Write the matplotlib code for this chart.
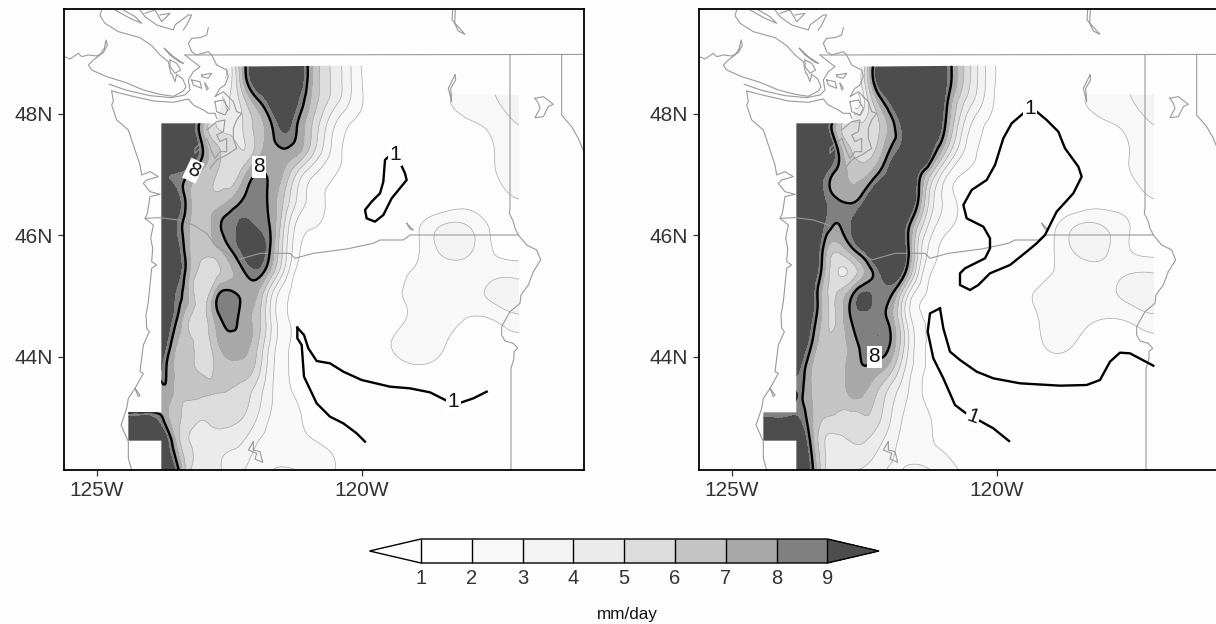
import numpy as np
import matplotlib
matplotlib.use("Agg")
import matplotlib.pyplot as plt
import matplotlib.tri as mtri
from matplotlib.patches import Polygon

FONT = "Liberation Sans"
plt.rcParams["font.family"] = [FONT, "DejaVu Sans"]

# grid of the precipitation field
LONS = [-124.5, -124.25, -124, -123.75, -123.5, -123.25, -123, -122.75, -122.5, -122.25, -122, -121.75,
        -121.5, -121.25, -121, -120.5, -120, -119.5, -119, -118.5, -118, -117.5, -117, -116.5]
LATS = [49.0, 48.6, 48.2, 47.8, 47.4, 47.0, 46.6, 46.2, 45.8, 45.4, 45.0, 44.6, 44.2, 43.8, 43.4, 43.0, 42.6, 42.1]

PRECIP_LEFT = [
 [3,3,3,3,3,3,3,3, 4,7.5,10,11,11,10.5,7.8, 4.6,2.0,1.5,1.5,1.6,2.2,3.0,3.5,3],
 [3,3,3,3,3,3,3,3, 3.5,7,10,11,11,10.5,7.7, 4.6,2.0,1.5,1.5,1.6,2.2,3.0,3.5,3],
 [10,10,10,10,10.5,10,8,5, 4,5.5,7.5,9.3,10.5,9.3,7.2, 4.3,2.05,1.5,1.5,1.8,2.4,2.9,3.4,3],
 [10,10,10,10,10.5,9.8,7,5, 4.5,5,6.3,7.6,9.3,8.2,6.4, 2.9,1.7,1.5,1.5,1.6,1.8,2.3,3.0,2.7],
 [11,11,11,11,11,10.5,8,6.2, 5.5,5,6.3,7.5,7.9,7.5,5.9, 2.5,1.6,1.4,1.4,1.5,1.7,2.0,2.5,2],
 [11,11,11,9.5,8.8,7.9,6.5,6, 5.3,6.6,8.0,7.9,7,5,3.4, 2.0,1.5,1.3,1.3,1.4,1.6,1.95,2.3,2],
 [11,11,11,11,9.6,7.2,6.3,6.3, 6.9,8,8.6,7.8,6.2,4.1,2.8, 1.7,1.4,1.2,1.1,1.2,1.5,1.7,2,1.5],
 [11,11,11,11,9,7,6.2,7.6, 8.4,9.2,8.8,8,5.5,3,2.2, 1.6,1.3,1.2,1.7,2.85,2.85,1.7,1.5,1.2],
 [11,11,11,11,9.5,7,6.3,6.9, 8,9.4,10,8.2,5,2.5,1.6, 1.4,1.3,1.5,1.8,3.3,3.3,1.9,1.5,1.2],
 [11,11,11,11,9.8,7,5.6,5.7, 6.7,7.8,8.7,7,4.2,1.9,1.3, 1.2,1.2,1.5,2.1,2.4,2.5,2.6,2.6,2],
 [11,11,11,10.5,8.7,6.8,5.4,7.7, 8.6,7.8,7.1,4.5,2.4,1.7,1.2, 1.2,1.2,1.6,2.2,2.2,2.5,3.3,3.4,2],
 [11,11,11,10.2,8,5.9,5.5,7.3, 8.4,7.6,6.6,4.3,2.4,1.7,1.1, 1.4,1.2,1.5,2.2,2.3,1.9,2.0,2.7,2],
 [11,11,11,9.6,7,6.3,5.4,6.7, 7.5,7.4,6.3,4,2.4,1.7,1.2, 1.2,1.3,1.9,2.5,2.1,1.6,1.5,1.5,1.2],
 [10,10,10,8.6,6.8,6.2,5.8,6.2, 6.7,6.6,5.7,3.6,2.3,1.7,1.2, 1.2,1.2,1.4,1.8,1.7,1.4,1.2,1.2,1.1],
 [4.5,4.5,4.5,7.6,6.6,6.2,6.1,6, 5.9,5.5,4.6,3.3,2.4,1.9,1.5, 1.3,1.2,1.2,1.2,1.2,1.2,1.2,1.2,1.1],
 [9.3,9.3,9.3,7.9,6.3,5.4,5.1,5.5, 5.4,5,4.1,3,2.6,2.2,1.8, 1.4,1.2,1.2,1.2,1.2,1.2,1.2,1.2,1.1],
 [10,10,10.5,10,6.8,5,4.5,4.4, 4.3,4,3.1,2.7,2.5,2.3,2.1, 1.8,1.5,1.2,1.2,1.2,1.2,1.2,1.2,1.1],
 [11,11,11,11,8.8,5,4.5,4.2, 3.7,3,2.8,3,3.2,3.1,2.9, 2,1.5,1.1,1.1,1.1,1.1,1.1,1.1,1.1],
]
PRECIP_RIGHT = [
 [3,3,3,3,3,3,3,3, 5,9.5,11,12,12,12,9.6, 5,1.9,1.5,1.5,1.6,2.2,3,3.5,3],
 [3,3,3,3,3,3,3,3, 5,9.5,11,12,12,12,9.6, 5,1.9,1.5,1.5,1.6,2.2,3,3.5,3],
 [10,10,10,10,10,10,8,3, 4,7,9.2,11,12,12,9, 4.3,1.8,1.5,1.5,1.8,2.4,2.9,3.4,3],
 [11,11,11,11,11,9.7,6.5,5.3, 5.3,5.8,7.5,9.4,11,11,8.3, 3,1.7,1.5,1.5,1.6,1.8,2.3,3,2.7],
 [11,11,11,11,11,11,8,6, 5.5,6.3,8.2,10,12,9.5,6.5, 2.4,1.7,1.4,1.4,1.5,1.7,2,2.5,2],
 [11,11,11,11,11,9,7.6,6.8, 6.8,8.1,10,12,9,6,3.5, 1.8,1.5,1.3,1.3,1.4,1.6,1.95,2.3,2],
 [11,11,11,11,11,9,8,7.7, 8.8,11,12,12,8.3,4.6,2.8, 1.6,1.4,1.2,1.1,1.2,1.5,1.7,2,1.5],
 [11,11,11,11,10.5,8.9,8,9, 10.5,12,12,9.5,6.3,3.7,2.5, 1.6,1.3,1.2,1.6,2.85,2.85,2,1.5,1.2],
 [12,12,12,12,11,7.6,6.5,7.9, 9.5,11,11,9.3,5.1,2.7,1.7, 1.4,1.3,1.3,1.8,3.3,3.3,2,1.5,1.2],
 [12,12,12,12,10.5,7,5,5.3, 7,8.7,10,8.4,4.3,2.05,1.5, 1.4,1.3,1.5,1.95,2.4,2.7,2.9,2.9,2],
 [12,12,12,12,9.7,6.4,6.2,7.9, 9.3,8.6,8,4.8,2.4,1.8,1.4, 1.3,1.3,1.8,2.2,2.3,2.6,3.3,3.4,2],
 [12,12,12,11.5,9,6.4,6.2,8, 8.6,8.6,7.5,4.5,2.4,1.7,1.3, 1.3,1.3,1.6,2.2,2.2,1.95,2.1,2.7,2],
 [11,11,11,10.5,8,6.3,6.4,7.4, 8.4,8.8,7.8,5,2.6,1.8,1.3, 1.3,1.3,1.5,2.1,1.95,1.5,1.4,1.5,1.2],
 [10,10,10,9.2,7,6.3,6.5,7.4, 7.9,7.4,6.3,4.1,2.5,1.7,1.3, 1.3,1.3,1.3,1.6,1.5,1.3,1.3,1.2,1.1],
 [7,7,7,8.1,7,6.2,6.3,7.2, 7,5.9,4.5,3.3,2.3,1.6,1.4, 1.3,1.2,1.2,1.2,1.2,1.2,1.2,1.2,1.1],
 [9,9,9,9,7.2,6,5.8,5.6, 5.9,5.3,4,2.9,2.4,2,1.6, 1.3,1.2,1.2,1.2,1.2,1.2,1.2,1.2,1.1],
 [11,11,11,10.5,7.6,5,4.7,5, 5,4.3,3.4,2.7,2.5,2.1,1.8, 1.4,1.2,1.2,1.2,1.2,1.2,1.2,1.2,1.1],
 [12,12,12,12,8.5,5,4.3,4, 3.8,3.4,2.8,3.1,3.3,3.1,2.6, 1.7,1.3,1.1,1.1,1.1,1.1,1.1,1.1,1.1],
]
LEVELS = [1, 2, 3, 4, 5, 6, 7, 8, 9]
LEVEL_TICKS = [1, 2, 3, 4, 5, 6, 7, 8, 9]
FILLS = ["#fefefe", "#fdfdfd", "#f8f8f8", "#f3f3f3", "#ebebeb", "#dcdcdc",
         "#c4c4c4", "#a8a8a8", "#808080", "#4d4d4d"]

# digitised map geometry; grid units are thirds of a map pixel
def to_lon(u):
    return -125 + (np.asarray(u, float) - 111) / 159
def to_lat(v):
    return 48 - (np.asarray(v, float) - 327) / 182.25

DATA_REGION = [(304,355),(470,355),(490,260),(500,185),(1085,180),(1085,265),(1377,270),(1377,1400),
               (304,1400),(304,1307),(205,1307),(205,1222),(304,1222)]

MAP_LINES = [
 # Vancouver Island and strait
 [(13,155),(30,162),(55,145),(65,155),(85,150),(110,153),(130,143),(142,120),(138,105),(133,130),(120,150),(100,165),
  (85,180),(95,195),(140,215),(195,232),(250,255),(300,268),(340,274),(370,258),(378,245),(368,222),(350,208),(345,230),(335,205)],
 [(125,15),(120,32),(135,55),(175,80),(240,98),(275,122),(300,150),(325,170),(332,205)],
 [(313,130),(340,155),(370,175),(360,172),(330,150),(313,130)],
 [(330,165),(350,175),(362,195),(345,205),(330,185),(330,165)],
 [(148,238),(200,256),(270,272),(335,278),(375,270),(390,255),(385,225),(400,200),(420,185),(400,170),(375,150)],
 [(165,15),(210,40),(245,55),(225,35),(190,15)],
 [(240,15),(255,35),(290,60),(340,75),(345,60),(385,30),(395,30),(380,60),(370,75)],
 [(255,25),(285,15),(305,50),(330,25),(300,30)],
 [(445,68),(440,90),(420,98),(395,100),(385,115),(395,140),(410,150),(445,140),(455,150),(470,180),(500,195),(505,215),
  (495,240),(480,250),(465,275),(490,260),(520,290),(530,320),(545,325),(530,345),(520,370),(520,400),(530,430),(500,450),(470,465),(450,490)],
 [(425,210),(455,205),(445,220),(425,215),(425,210)],
 [(395,225),(420,230),(425,250),(400,240),(395,225)],
 [(435,235),(445,250),(440,255),(435,235)],
 [(465,290),(490,285),(505,310),(495,330),(470,320),(465,290)],
 [(440,375),(470,350),(495,345),(490,380),(470,390),(480,410),(500,400),(500,440),(480,440),(465,460),(455,440),(440,400),(405,430),(405,445),(420,430)],
 # Pacific coast
 [(155,258),(210,272),(280,288),(340,292),(385,282),(400,300),(430,315),(445,325),(465,325),(470,340)],
 [(155,258),(160,290),(155,300),(170,345),(205,375),(220,420),(240,480),(245,510),(270,500),(295,515),(260,525),(250,535),
  (270,560),(300,568),(270,575),(262,625),(255,640),(280,660),(272,700),(278,730),(275,770),(290,780),(275,790),(265,890),
  (258,930),(260,970),(268,980),(250,1020),(240,1100),(250,1105),(225,1150),(205,1180),(200,1210),(183,1260),(205,1310),(205,1360),(215,1395)],
 [(225,1150),(235,1175),(240,1170),(225,1150)],
 # Columbia river and state lines
 [(255,640),(300,638),(355,645),(400,660),(440,685),(465,720),(530,765),(600,745),(640,745),(690,745),(705,760),(760,745),
  (860,732),(940,715),(960,705),(1030,705),(1050,690),(1375,690)],
 [(375,150),(1800,148)],
 [(1350,150),(1350,610),(1348,625),(1360,650),(1365,670),(1375,690),(1400,720),(1430,735),(1442,765),(1420,800),(1405,840),
  (1383,870),(1380,895),(1350,920),(1325,965),(1325,990),(1335,1008),(1360,1015),(1373,1030),(1362,1040),(1362,1060),(1353,1090),(1353,1395)],
 [(1505,150),(1505,330),(1535,365),(1555,400),(1563,420),(1600,500)],
 # lakes
 [(1178,15),(1176,45),(1215,88),(1195,78),(1184,55),(1186,15)],
 [(1185,210),(1165,250),(1175,290),(1172,250),(1187,225),(1185,210)],
 [(1425,280),(1450,275),(1480,298),(1465,305),(1450,335),(1425,338),(1440,310),(1435,295),(1425,280)],
 [(1040,655),(1060,675),(1050,672),(1040,655)],
 [(580,1310),(565,1335),(590,1345),(585,1362),(608,1372),(600,1340),(580,1335),(580,1310)],
]

ONE_LINES_LEFT = [
 [(988,453),(975,465),(970,530),(960,565),(935,590),(915,615),(920,640),(945,650),(970,630),(995,580),(1040,525),(1035,505),(1022,477)],
 [(712,968),(732,990),(745,1030),(770,1068),(810,1075),(850,1100),(905,1125),(990,1145),(1050,1150),(1110,1162),(1162,1188)],
 [(1202,1193),(1240,1180),(1280,1160)],
 [(712,968),(712,1000),(725,1020),(732,1115),(770,1195),(810,1235),(850,1255),(890,1285),(915,1310)],
]
ONE_LINES_RIGHT = [
 [(985,325),(950,355),(925,400),(900,480),(875,525),(830,555),(805,600),(815,640),(865,665),(885,700),(885,730),(870,760),
  (810,790),(795,805),(795,840),(825,855),(850,840),(885,805),(945,780),(995,740),(1025,715),(1050,690),(1060,670),(1085,620),
  (1135,565),(1160,515),(1150,485),(1110,430),(1090,380),(1055,345),(1025,320)],
 [(735,910),(705,925),(698,980),(715,1060),(745,1120),(780,1200),(813,1225)],
 [(850,1245),(895,1270),(942,1308)],
 [(735,910),(745,970),(765,1040),(795,1065),(845,1100),(895,1120),(975,1135),(1095,1142),(1175,1140),(1215,1125),(1245,1070),
  (1275,1043),(1305,1045),(1375,1082)],
]
# label text, position, rotation
LABELS_LEFT = [("8", 400, 497, -25), ("8", 597, 485, 0), ("1", 1005, 450, 0), ("1", 1180, 1190, 0)]
LABELS_RIGHT = [("1", 1005, 310, 0), ("8", 538, 1055, 0), ("1", 833, 1235, -20)]

XTICKS = [-125, -120]
XTICK_LABELS = ["125W", "120W"]
YTICKS = [44, 46, 48]
YTICK_LABELS = ["44N", "46N", "48N"]
UNIT = "mm/day"

W, H = 1216, 624
BG = "#fdfdfd"
fig = plt.figure(figsize=(W / 100, H / 100), dpi=100, facecolor=BG)

def panel(x0, field, one_lines, labels):
    ax = fig.add_axes([x0 / W, 1 - 470 / H, 520 / W, 461 / H], facecolor=BG)
    lon, lat = np.meshgrid(LONS, LATS)
    tri = mtri.Triangulation(lon.ravel(), lat.ravel())
    rtri, rz = mtri.UniformTriRefiner(tri).refine_field(np.asarray(field, float).ravel(), subdiv=3)
    region = Polygon(np.column_stack([to_lon([p[0] for p in DATA_REGION]), to_lat([p[1] for p in DATA_REGION])]),
                     closed=True, transform=ax.transData)
    cf = ax.tricontourf(rtri, rz, levels=LEVELS, colors=FILLS, extend="both", zorder=1)
    cf.set_clip_path(region)
    thin = ax.tricontour(rtri, rz, levels=[2, 3, 4, 5, 6, 7], colors="#a9a9a9", linewidths=0.5, zorder=2)
    thin.set_clip_path(region)
    bold = ax.tricontour(rtri, rz, levels=[8], colors="black", linewidths=1.7, zorder=4)
    bold.set_clip_path(region)
    for seg in MAP_LINES:
        s = np.array(seg)
        ax.plot(to_lon(s[:, 0]), to_lat(s[:, 1]), color="#9a9a9a", lw=0.8, zorder=3)
    for seg in one_lines:
        s = np.array(seg)
        ax.plot(to_lon(s[:, 0]), to_lat(s[:, 1]), color="black", lw=1.7, zorder=4)
    for txt, u, v, rot in labels:
        ax.text(to_lon(u), to_lat(v), txt, ha="center", va="center", rotation=rot, fontsize=15, color="#111111", zorder=6,
                bbox=dict(facecolor="white", edgecolor="none", pad=1.0))
    ax.set_xlim(-125.623, -115.811)
    ax.set_ylim(42.14, 49.728)
    ax.set_xticks(XTICKS, XTICK_LABELS)
    ax.set_yticks(YTICKS, YTICK_LABELS)
    ax.tick_params(length=4, width=0.9, color="#333333", labelsize=15, labelcolor="#333333", pad=4)
    for sp in ax.spines.values():
        sp.set_linewidth(1.3)
        sp.set_zorder(10)
    return cf

cf = panel(64, PRECIP_LEFT, ONE_LINES_LEFT, LABELS_LEFT)
panel(699, PRECIP_RIGHT, ONE_LINES_RIGHT, LABELS_RIGHT)

cax = fig.add_axes([369.5 / W, 1 - 563 / H, 509.5 / W, 24 / H])
cb = fig.colorbar(cf, cax=cax, orientation="horizontal", ticks=LEVEL_TICKS, drawedges=True, extendfrac=0.1268)
cb.ax.tick_params(length=0, labelsize=14.5, labelcolor="#333333", pad=4)
cb.outline.set_linewidth(1.0)
cb.dividers.set_linewidth(1.0)
fig.text(627 / W, 1 - 615 / H, UNIT, ha="center", va="center", fontsize=12.3, color="#111111")

fig.savefig("out.png", dpi=100, facecolor=BG)
